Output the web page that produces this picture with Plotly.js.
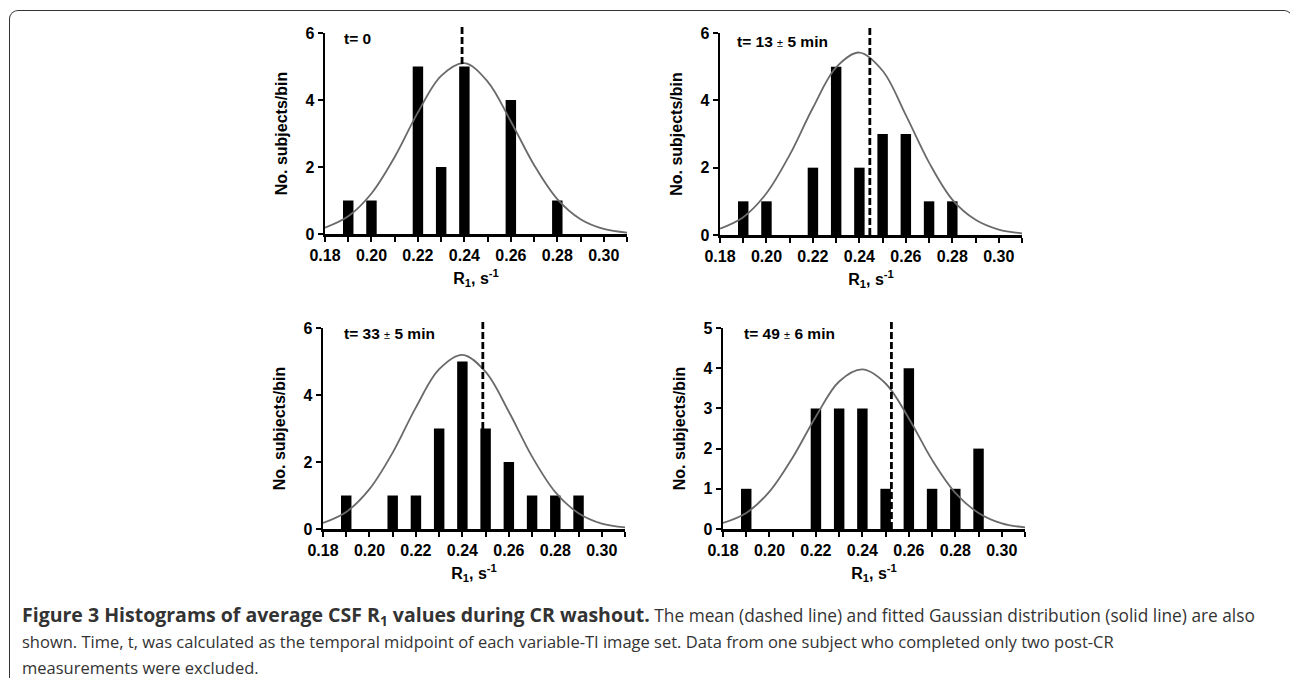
<!DOCTYPE html>
<html>
<head>
<meta charset="utf-8">
<script src="https://cdn.plot.ly/plotly-3.0.1.min.js"></script>
<style>
html,body{margin:0;padding:0;background:#fff;overflow:hidden;}
#chart{width:1290px;height:678px;position:relative;}
#frame{position:absolute;left:9px;top:10px;width:1284px;height:720px;border-top:1.5px solid #333;border-left:1.5px solid #333;border-right:1.5px solid #333;border-radius:9px 9px 0 0;pointer-events:none;box-sizing:border-box;}
</style>
</head>
<body>
<div id="chart"></div>
<div id="frame"></div>
<script>
// ---- data ----
const binCenters = [0.19, 0.20, 0.21, 0.22, 0.23, 0.24, 0.25, 0.26, 0.27, 0.28, 0.29];
const countsT0  = [1, 1, 0, 5, 2, 5, 0, 4, 0, 1, 0];
const countsT13 = [1, 1, 0, 2, 5, 2, 3, 3, 1, 1, 0];
const countsT33 = [1, 0, 1, 1, 3, 5, 3, 2, 1, 1, 1];
const countsT49 = [1, 0, 0, 3, 3, 3, 1, 4, 1, 1, 2];

const meanT0 = 0.239, meanT13 = 0.2445, meanT33 = 0.2488, meanT49 = 0.2525;

// fitted Gaussian curve
const curveX   = [0.18, 0.19, 0.20, 0.21, 0.22, 0.23, 0.24, 0.25, 0.26, 0.27, 0.28, 0.29, 0.30, 0.31];
const curveT0  = [0.19, 0.53, 1.21, 2.30, 3.63, 4.72, 5.10, 4.55, 3.36, 2.06, 1.04, 0.44, 0.15, 0.04];
const curveT13 = [0.19, 0.53, 1.24, 2.38, 3.78, 4.98, 5.42, 4.88, 3.56, 2.15, 1.05, 0.45, 0.16, 0.05];
const curveT33 = [0.18, 0.51, 1.19, 2.28, 3.63, 4.77, 5.20, 4.69, 3.50, 2.16, 1.10, 0.47, 0.16, 0.05];
const curveT49 = [0.15, 0.40, 0.93, 1.78, 2.80, 3.67, 3.97, 3.62, 2.75, 1.72, 0.90, 0.40, 0.14, 0.04];

const xTickVals = [0.18, 0.20, 0.22, 0.24, 0.26, 0.28, 0.30];
const xTickText = ['0.18', '0.20', '0.22', '0.24', '0.26', '0.28', '0.30'];
const yTicks6 = [0, 2, 4, 6];
const yTicks5 = [0, 1, 2, 3, 4, 5];

const pm = '<span style="font-weight:normal;font-size:11px">±</span>';
const panelLabels = ['t= 0', 't= 13 ' + pm + ' 5 min', 't= 33 ' + pm + ' 5 min', 't= 49 ' + pm + ' 6 min'];
const xTitle = 'R<sub>1</sub>, s<sup>-1</sup>';
const yTitle = 'No. subjects/bin';

const captionLines = [
  '<span style="font-size:19.5px;font-weight:bold">Figure 3 Histograms of average CSF R<sub>1</sub> values during CR washout.</span><span style="font-size:17.3px"> The mean (dashed line) and fitted Gaussian distribution (solid line) are also</span>',
  'shown. Time, t, was calculated as the temporal midpoint of each variable-TI image set. Data from one subject who completed only two post-CR',
  'measurements were excluded.'
];

// ---- drawing ----
const W = 1290, H = 678;
const px = v => v / W;
const py = v => 1 - v / H;
const FONT = 'Liberation Sans';
const bold = s => '<b>' + s + '</b>';

const panels = [
  {counts: countsT0,  curve: curveT0,  mean: meanT0,  yt: yTicks6, yr: [0, 6], xd: [325, 627], yd: [234, 33],  lab: [342, 38]},
  {counts: countsT13, curve: curveT13, mean: meanT13, yt: yTicks6, yr: [0, 6], xd: [720, 1022], yd: [235, 33], lab: [735, 42]},
  {counts: countsT33, curve: curveT33, mean: meanT33, yt: yTicks6, yr: [0, 6], xd: [323, 625], yd: [529, 328], lab: [342, 334]},
  {counts: countsT49, curve: curveT49, mean: meanT49, yt: yTicks5, yr: [0, 5], xd: [723, 1025], yd: [529, 328], lab: [742, 333]}
];

const boldFont = (s) => ({family: FONT, size: s, color: '#000', weight: 700});

const traces = [];
const layout = {
  width: W, height: H,
  margin: {l: 0, r: 0, t: 0, b: 0},
  paper_bgcolor: '#fff', plot_bgcolor: 'rgba(0,0,0,0)',
  showlegend: false,
  shapes: [], annotations: []
};

panels.forEach((p, i) => {
  const n = i === 0 ? '' : String(i + 1);
  const xa = 'x' + n, ya = 'y' + n;
  traces.push({
    type: 'bar', x: binCenters, y: p.counts, width: 0.0045,
    marker: {color: '#000', line: {width: 0}},
    xaxis: xa, yaxis: ya, hoverinfo: 'skip'
  });
  traces.push({
    type: 'scatter', mode: 'lines', x: curveX, y: p.curve,
    line: {color: '#6a6a6a', width: 1.8, shape: 'spline'},
    xaxis: xa, yaxis: ya, hoverinfo: 'skip'
  });
  const axCommon = {
    showline: true, linecolor: '#000', linewidth: 2.5,
    ticks: 'outside', ticklen: 5, tickwidth: 2, tickcolor: '#000',
    showgrid: false, zeroline: false, fixedrange: true,
    tickfont: boldFont(16)
  };
  layout['xaxis' + n] = Object.assign({}, axCommon, {
    domain: [px(p.xd[0]), px(p.xd[1])], anchor: ya,
    range: [0.18, 0.31], tickmode: 'array', tickvals: xTickVals, ticktext: xTickText.map(bold),
    minor: {dtick: 0.01, tick0: 0.18, ticks: 'outside', ticklen: 5, tickwidth: 2, tickcolor: '#000', showgrid: false},
    title: {text: xTitle, font: boldFont(16), standoff: 10}
  });
  layout['yaxis' + n] = Object.assign({}, axCommon, {
    domain: [py(p.yd[0]), py(p.yd[1])], anchor: xa,
    range: p.yr, tickmode: 'array', tickvals: p.yt, ticktext: p.yt.map(v => bold(String(v))),
    title: {text: yTitle, font: boldFont(16), standoff: 14}
  });
  layout.shapes.push({
    type: 'line', xref: xa, yref: ya + ' domain', x0: p.mean, x1: p.mean, y0: 0, y1: 1.03,
    line: {color: '#000', width: 2.8, dash: '7px,3px'}, layer: 'above'
  });
  layout.annotations.push({
    xref: 'paper', yref: 'paper', x: px(p.lab[0]), y: py(p.lab[1]),
    xanchor: 'left', yanchor: 'middle', showarrow: false, text: panelLabels[i],
    font: boldFont(15.5)
  });
});

const capY = [615, 641, 667];
captionLines.forEach((t, i) => {
  layout.annotations.push({
    xref: 'paper', yref: 'paper', x: px(20), y: py(capY[i]),
    xanchor: 'left', yanchor: 'middle', showarrow: false, text: t, align: 'left',
    font: {family: 'Open Sans', size: 16.5, color: '#333'}
  });
});

Plotly.newPlot('chart', traces, layout, {staticPlot: true, displayModeBar: false});
</script>
</body>
</html>
